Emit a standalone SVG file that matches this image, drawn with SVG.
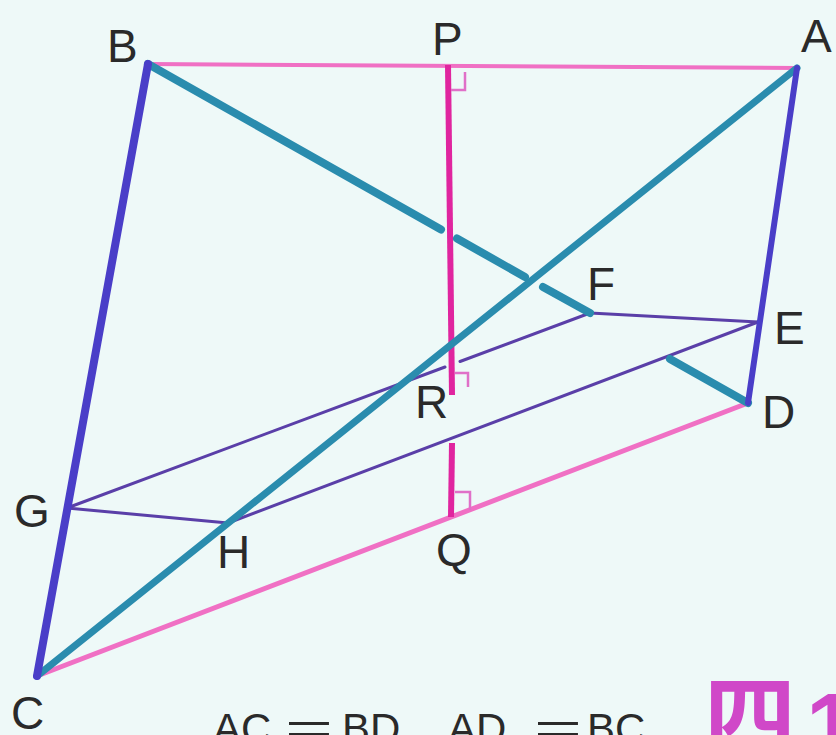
<svg xmlns="http://www.w3.org/2000/svg" width="836" height="735" viewBox="0 0 836 735">
<style>
.lbl{font-family:"Liberation Sans",Arial,sans-serif;font-size:46px;fill:#2a2a2a}
.cap{font-family:"Liberation Sans",Arial,sans-serif;font-size:42px;fill:#2a2a2a}
.pink{stroke:#f070c4;fill:none;stroke-linecap:round}
.blue{stroke:#4a3ec8;fill:none;stroke-linecap:round}
.teal{stroke:#2a8cae;fill:none;stroke-linecap:round}
.mag{stroke:#e0259f;fill:none;stroke-width:6;stroke-linecap:butt}
.plane{stroke:#5a3fa8;fill:none;stroke-width:3;stroke-linecap:round}
.ra{stroke:#e070c8;fill:none;stroke-width:2.5}
</style>
<rect width="836" height="735" fill="#eef9f8"/>
<g id="connectors">
  <line class="pink" x1="148" y1="64" x2="797" y2="68" stroke-width="4"/>
  <line class="pink" x1="37" y1="676" x2="748" y2="403" stroke-width="5"/>
  <!-- plane EFGH -->
  <line class="plane" x1="590" y1="313" x2="758" y2="322"/>
  <line class="plane" x1="590" y1="313" x2="460" y2="361.5"/>
  <line class="plane" x1="445" y1="367" x2="67" y2="508"/>
  <line class="plane" x1="67" y1="508" x2="228" y2="523"/>
  <line class="plane" x1="228" y1="523" x2="758" y2="322"/>
  <!-- PQ -->
  <line class="mag" x1="448" y1="65" x2="452" y2="395"/>
  <line class="mag" x1="452" y1="443" x2="451" y2="517"/>
  <!-- BD -->
  <g class="teal" stroke-width="8">
    <line x1="148" y1="64" x2="441" y2="229.5"/>
    <line x1="457" y1="238.5" x2="525" y2="277"/>
    <line x1="543" y1="287" x2="590" y2="313"/>
    <line x1="670" y1="359" x2="748" y2="403"/>
  </g>
  <!-- AC -->
  <line class="teal" x1="797" y1="68" x2="37" y2="676" stroke-width="7"/>
  <!-- BC, AD -->
  <line class="blue" x1="148" y1="64" x2="37" y2="676" stroke-width="8"/>
  <line class="blue" x1="797" y1="68" x2="748" y2="403" stroke-width="6"/>
  <!-- right angle marks -->
  <polyline class="ra" points="451,90 465,90 465,72"/>
  <polyline class="ra" points="455,373 468,373 468,387"/>
  <polyline class="ra" points="455,492 470,492 470,510"/>
</g>
<g id="B"><text class="lbl" x="107" y="62">B</text></g>
<g id="P"><text class="lbl" x="432" y="55">P</text></g>
<g id="A"><text class="lbl" x="801" y="52">A</text></g>
<g id="F"><text class="lbl" x="587" y="300">F</text></g>
<g id="E"><text class="lbl" x="774" y="344">E</text></g>
<g id="D"><text class="lbl" x="762" y="428">D</text></g>
<g id="R"><text class="lbl" x="415" y="418">R</text></g>
<g id="G"><text class="lbl" x="14" y="527">G</text></g>
<g id="H"><text class="lbl" x="217" y="568">H</text></g>
<g id="Q"><text class="lbl" x="436" y="566">Q</text></g>
<g id="C"><text class="lbl" x="11" y="729">C</text></g>
<g id="caption">
  <text class="cap" x="213" y="743">AC</text>
  <text class="cap" x="285" y="743" textLength="48" lengthAdjust="spacingAndGlyphs">=</text>
  <text class="cap" x="342" y="743">BD</text>
  <text class="cap" x="448" y="743">AD</text>
  <text class="cap" x="534" y="743" textLength="48" lengthAdjust="spacingAndGlyphs">=</text>
  <text class="cap" x="587" y="743">BC</text>
  <text x="704" y="752" font-family="Noto Sans CJK SC,sans-serif" font-weight="bold" font-size="92" fill="#d048c8">四</text>
  <text x="806" y="758" font-family="Liberation Sans,sans-serif" font-weight="bold" font-size="92" fill="#d048c8">1</text>
</g>
</svg>
